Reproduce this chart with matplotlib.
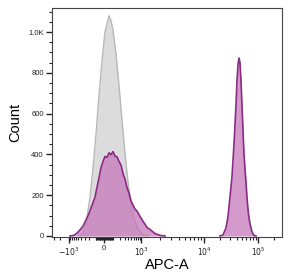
import numpy as np
import matplotlib
matplotlib.use("Agg")
import matplotlib.pyplot as plt
from matplotlib.ticker import FixedLocator, MultipleLocator

plt.rcParams['font.family'] = ['Liberation Sans', 'DejaVu Sans']

# isotype control (grey)
ctrl_x = [-431, -340, -266, -185, -137, -94, -57, -22, 10, 32, 54, 77, 101, 142,
          189, 245, 311, 390, 488, 605, 753, 932, 1117, 1295]
ctrl_y = [0, 12, 60, 190, 330, 500, 690, 860, 1000, 1040, 1080, 1055, 1010, 890,
          735, 565, 400, 265, 160, 90, 45, 20, 5, 0]

# stained sample (purple), negative population
neg_x = [-928, -686, -546, -431, -340, -266, -204, -152, -108, -81, -57, -34, -11,
         10, 32, 54, 77, 101, 128, 157, 189, 225, 265, 311, 361, 419, 488, 564,
         651, 753, 932, 1078, 1250, 1446, 1674, 2009, 2410]
neg_y = [0, 3, 14, 30, 48, 78, 110, 150, 190, 240, 285, 335, 365, 390, 385, 408,
         398, 414, 392, 388, 365, 348, 305, 278, 238, 210, 172, 152, 132, 122,
         96, 72, 42, 28, 12, 3, 0]

# stained sample (purple), positive population
pos_x = [19790, 22490, 25570, 27800, 30270, 32970, 35920, 39100, 40840, 42600,
         44500, 46400, 48420, 50500, 52730, 55000, 57400, 60000, 62500, 65300,
         68000, 71100, 77400, 84200, 91800]
pos_y = [0, 5, 40, 95, 190, 290, 450, 640, 760, 840, 873, 850, 760, 640, 520,
         400, 330, 260, 190, 130, 90, 60, 20, 3, 0]

major_vals = [-1000, 0, 1000, 10000, 100000]
major_labels = ['$-10^3$', '0', '$10^3$', '$10^4$', '$10^5$']

# display scale (logicle-like)
U = np.arcsinh(np.array(major_vals, float) / 150)
P = np.array([69, 104, 141, 204, 258], float)
s0 = (P[1] - P[0]) / (U[1] - U[0])
s1 = (P[-1] - P[-2]) / (U[-1] - U[-2])


def fwd(x):
    u = np.arcsinh(np.asarray(x, float) / 150)
    p = np.interp(u, U, P)
    p = np.where(u < U[0], P[0] + (u - U[0]) * s0, p)
    p = np.where(u > U[-1], P[-1] + (u - U[-1]) * s1, p)
    return p


def inv(p):
    p = np.asarray(p, float)
    u = np.interp(p, P, U)
    u = np.where(p < P[0], U[0] + (p - P[0]) / s0, u)
    u = np.where(p > P[-1], U[-1] + (p - P[-1]) / s1, u)
    return 150 * np.sinh(u)


fig = plt.figure(figsize=(2.92, 2.74), dpi=100)
ax = fig.add_axes([52 / 292, 1 - 237 / 274, 230 / 292, 229 / 274])
ax.set_xscale('function', functions=(fwd, inv))

ax.fill_between(ctrl_x, ctrl_y, color='#dcdcdc', lw=0, zorder=1)
ax.plot(ctrl_x, ctrl_y, color='#b8b8b8', lw=1.0, zorder=2)
for xs, ys in [(neg_x, neg_y), (pos_x, pos_y)]:
    ax.fill_between(xs, ys, color='#c474b8', alpha=0.72, lw=0, zorder=3)
    ax.plot(xs, ys, color='#8a2a86', lw=1.2, zorder=4)

ax.set_xlim(float(inv(52)), float(inv(282)))
ax.set_ylim(-5, 1118)

minors = []
for d in [10, 100]:
    minors += [-k * d for k in range(1, 10)]
minors += [-2000, -3000]
for d in [10, 100, 1000, 10000]:
    minors += [k * d for k in range(1, 10)]
minors += [200000]
ax.xaxis.set_major_locator(FixedLocator(major_vals))
ax.xaxis.set_minor_locator(FixedLocator(minors))
ax.set_xticklabels(major_labels)

ax.set_yticks([0, 200, 400, 600, 800, 1000])
ax.set_yticklabels(['0', '200', '400', '600', '800', '1.0K'])
ax.yaxis.set_minor_locator(MultipleLocator(50))

ax.tick_params(which='major', direction='out', length=4, width=1, labelsize=5.5,
               colors='#222222', pad=2)
ax.tick_params(which='minor', direction='out', length=2, width=0.8, colors='#222222')
for s in ax.spines.values():
    s.set_color('#444444')
    s.set_linewidth(0.8)

ax.set_xlabel('APC-A', fontsize=10.5, labelpad=0)
ax.set_ylabel('Count', fontsize=10.5, labelpad=4)

fig.savefig('out.png', dpi=100)
